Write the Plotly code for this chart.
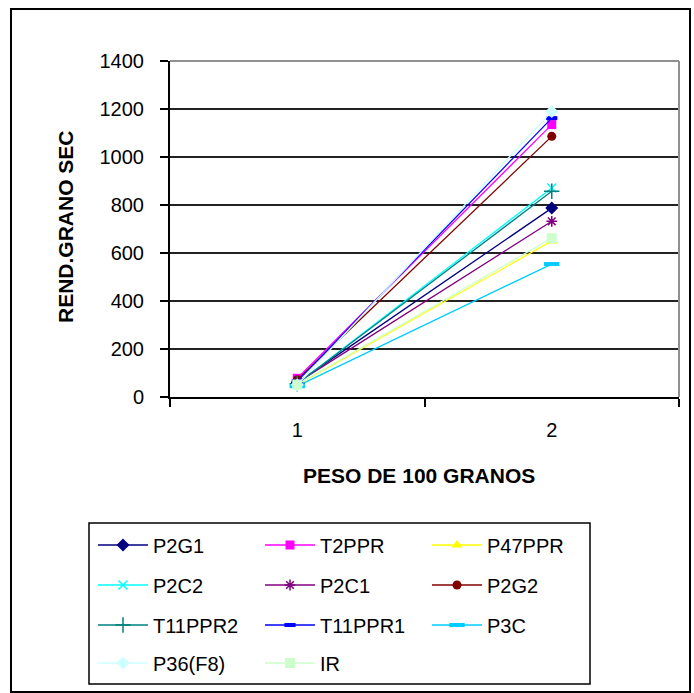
import plotly.graph_objects as go

categories = ["1", "2"]
series_names = ["P2G1", "T2PPR", "P47PPR", "P2C2", "P2C1", "P2G2",
                "T11PPR2", "T11PPR1", "P3C", "P36(F8)", "IR"]
P2G1 = [60, 787]
T2PPR = [78, 1135]
P47PPR = [50, 650]
P2C2 = [55, 871]
P2C1 = [60, 732]
P2G2 = [72, 1086]
T11PPR2 = [55, 857]
T11PPR1 = [65, 1162]
P3C = [45, 554]
P36F8 = [50, 1190]
IR = [52, 662]
series_values = [P2G1, T2PPR, P47PPR, P2C2, P2C1, P2G2, T11PPR2, T11PPR1, P3C, P36F8, IR]
y_ticks = [0, 200, 400, 600, 800, 1000, 1200, 1400]

colors = ["#000080", "#FF00FF", "#FFFF00", "#00FFFF", "#800080", "#800000",
          "#008080", "#0000FF", "#00CCFF", "#CCFFFF", "#CCFFCC"]
symbols = ["diamond", "square", "triangle-up", "x-thin-open", "asterisk-open", "circle",
           "cross-thin-open", "line-ew-open", "line-ew-open", "diamond", "square"]
sizes = [10, 9, 10, 9, 9, 9, 11, 8, 11, 10, 10]

W, H = 694, 693
L, R, T, B = 170, 15, 61, 296
PW, PH = W - L - R, H - T - B


def px(x):
    return (x - L) / PW


def py(y):
    return (H - B - y) / PH


FONT = "Liberation Sans, Arial, sans-serif"
fig = go.Figure()
legend_ids = ["legend", "legend2", "legend3", "legend4"]
for i, (name, vals) in enumerate(zip(series_names, series_values)):
    sym = symbols[i]
    mk = dict(symbol=sym, size=sizes[i], color=colors[i],
              line=dict(color=colors[i], width=1.5 if "open" in sym else 0))
    if sym == "line-ew-open":
        mk["line"]["width"] = 4
    fig.add_trace(go.Scatter(
        x=categories, y=vals, name=name, mode="lines+markers",
        line=dict(color=colors[i], width=1.3),
        marker=mk, legend=legend_ids[i // 3], cliponaxis=False))

row_y = [545, 585, 625, 663]
layout_legends = {}
for k, lid in enumerate(legend_ids):
    layout_legends[lid] = dict(
        orientation="h", x=px(93), xanchor="left", y=py(row_y[k]), yanchor="middle",
        entrywidth=102, entrywidthmode="pixels", itemwidth=50,
        bgcolor="rgba(0,0,0,0)", borderwidth=0,
        font=dict(family=FONT, size=20, color="black"))

shapes = [
    dict(type="rect", xref="paper", yref="paper", x0=px(11), x1=px(690), y0=py(9), y1=py(692),
         line=dict(color="black", width=2), layer="below"),
    dict(type="rect", xref="paper", yref="paper", x0=px(89), x1=px(590), y0=py(523), y1=py(684),
         line=dict(color="black", width=1.5), layer="below"),
    dict(type="line", xref="paper", yref="paper", x0=0, x1=1, y0=1, y1=1,
         line=dict(color="#909090", width=2), layer="above"),
    dict(type="line", xref="paper", yref="paper", x0=1, x1=1, y0=0, y1=1,
         line=dict(color="#909090", width=2), layer="above"),
]

fig.update_layout(
    width=W, height=H,
    margin=dict(l=L, r=R, t=T, b=B, autoexpand=False),
    paper_bgcolor="white", plot_bgcolor="white",
    font=dict(family=FONT, size=20, color="black"),
    showlegend=True,
    shapes=shapes,
    annotations=[
        dict(text="<b>REND.GRANO SEC</b>", xref="paper", yref="paper", x=px(65), y=py(227),
             textangle=-90, showarrow=False, font=dict(family=FONT, size=21, color="black"),
             xanchor="center", yanchor="middle"),
        dict(text="<b>PESO DE 100 GRANOS</b>", xref="paper", yref="paper", x=px(419), y=py(475),
             showarrow=False, font=dict(family=FONT, size=21, color="black"),
             xanchor="center", yanchor="middle"),
    ],
    **layout_legends,
)
fig.update_xaxes(type="category", range=[-0.5, 1.5], tickson="boundaries",
                 ticks="outside", ticklen=8, tickwidth=2, tickcolor="black",
                 showline=True, linecolor="black", linewidth=2, showgrid=False,
                 zeroline=False, ticklabelstandoff=14,
                 tickfont=dict(family=FONT, size=20, color="black"))
fig.update_yaxes(range=[0, 1400], tickvals=y_ticks, ticks="outside", ticklen=8,
                 tickwidth=2, tickcolor="black", showline=True, linecolor="black",
                 linewidth=2, showgrid=True, gridcolor="#222222", gridwidth=2,
                 zeroline=False, ticklabelstandoff=12,
                 tickfont=dict(family=FONT, size=20, color="black"))

fig.write_html("out.html")
